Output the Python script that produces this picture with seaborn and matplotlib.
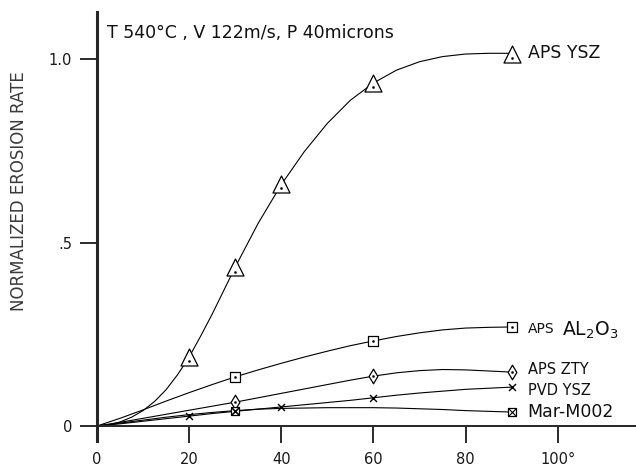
import matplotlib
matplotlib.use("Agg")
import matplotlib.pyplot as plt
import seaborn as sns

sns.set_style("ticks")
plt.rcParams['font.family'] = ['DejaVu Sans']

# measured points (angle in degrees, normalized erosion rate)
ysz_x = [20, 30, 40, 60, 90]
ysz_y = [0.188, 0.433, 0.66, 0.935, 1.015]
al2o3_x = [30, 60, 90]
al2o3_y = [0.134, 0.232, 0.27]
zty_x = [30, 60, 90]
zty_y = [0.065, 0.136, 0.147]
pvd_x = [20, 30, 40, 60, 90]
pvd_y = [0.027, 0.040, 0.052, 0.076, 0.106]
mar_x = [30, 90]
mar_y = [0.042, 0.038]

# fitted curves as drawn in the figure
ysz_curve_x = [0, 2.5, 5, 7.5, 10, 12.5, 15, 17.5, 20, 22.5, 25, 27.5, 30, 35, 40, 45, 50, 55,
               60, 65, 70, 75, 80, 85, 90]
ysz_curve = [0, 0.003, 0.011, 0.024, 0.042, 0.067, 0.099, 0.14, 0.188, 0.245, 0.305, 0.369, 0.433,
             0.553, 0.658, 0.748, 0.825, 0.888, 0.935, 0.970, 0.993, 1.007, 1.014, 1.016, 1.016]
curve_x = [0, 5, 10, 15, 20, 25, 30, 35, 40, 45, 50, 55, 60, 65, 70, 75, 80, 85, 90]
al2o3_curve = [0, 0.021, 0.044, 0.068, 0.091, 0.113, 0.134, 0.153, 0.171, 0.188, 0.204, 0.219, 0.232,
               0.244, 0.254, 0.262, 0.267, 0.269, 0.27]
zty_curve = [0, 0.01, 0.021, 0.032, 0.043, 0.054, 0.065, 0.077, 0.089, 0.101, 0.113, 0.125, 0.136,
             0.145, 0.151, 0.154, 0.153, 0.15, 0.147]
pvd_curve = [0, 0.006, 0.013, 0.02, 0.027, 0.034, 0.040, 0.046, 0.052, 0.058, 0.064, 0.07, 0.077,
             0.084, 0.09, 0.095, 0.1, 0.103, 0.106]
mar_curve = [0, 0.008, 0.016, 0.024, 0.031, 0.037, 0.042, 0.046, 0.048, 0.049, 0.05, 0.05, 0.05,
             0.049, 0.047, 0.045, 0.042, 0.04, 0.038]

xticks = [0, 20, 40, 60, 80, 100]
xtick_labels = ['0', '20', '40', '60', '80', '100°']
yticks = [0, 0.5, 1.0]
ytick_labels = ['0', '.5', '1.0']

fig = plt.figure(figsize=(6.36, 4.66), dpi=100)
ax = fig.add_axes([0.1525, 0.0858, 0.8475, 0.888])

lw = 0.8
sns.lineplot(x=ysz_curve_x, y=ysz_curve, ax=ax, color='black', linewidth=lw, clip_on=False)
for c in [al2o3_curve, zty_curve, pvd_curve, mar_curve]:
    sns.lineplot(x=curve_x, y=c, ax=ax, color='black', linewidth=lw, clip_on=False)

ms = dict(color='white', edgecolor='black', linewidth=0.9, zorder=3, clip_on=False)
sns.scatterplot(x=ysz_x, y=ysz_y, ax=ax, marker='^', s=150, **ms)
sns.scatterplot(x=al2o3_x, y=al2o3_y, ax=ax, marker='s', s=60, **ms)
sns.scatterplot(x=zty_x, y=zty_y, ax=ax, marker='d', s=55, **ms)
sns.scatterplot(x=mar_x, y=mar_y, ax=ax, marker='s', s=40, **ms)
sns.scatterplot(x=mar_x, y=mar_y, ax=ax, marker='x', s=25, color='black', linewidth=0.8,
                zorder=4, clip_on=False)
sns.scatterplot(x=pvd_x, y=pvd_y, ax=ax, marker='x', s=25, color='black', linewidth=1.0,
                zorder=4, clip_on=False)
# center dots
for xs, ys, off in [(ysz_x, ysz_y, -0.012), (al2o3_x, al2o3_y, 0), (zty_x, zty_y, 0)]:
    sns.scatterplot(x=xs, y=[v + off for v in ys], ax=ax, marker='o', s=3, color='black',
                    edgecolor='black', zorder=5, clip_on=False)

ax.set_xlim(0, 117)
ax.set_ylim(0, 1.128)
ax.set_xticks(xticks)
ax.set_xticklabels(xtick_labels)
ax.set_yticks(yticks)
ax.set_yticklabels(ytick_labels)
ax.tick_params(axis='both', direction='out', length=12, width=1.3, labelsize=10.5,
               colors='#1a1a1a', pad=6)
ax.tick_params(axis='x', pad=7)
for s in ['top', 'right']:
    ax.spines[s].set_visible(False)
ax.spines['left'].set_linewidth(2.2)
ax.spines['bottom'].set_linewidth(1.4)
ax.spines['left'].set_bounds(-0.04, 1.128)

ax.set_ylabel('NORMALIZED EROSION RATE', fontsize=12, color='#3a3a3a')
ax.yaxis.set_label_coords(-0.128, 0.568)

col = '#111111'
ax.text(2.2, 1.072, 'T 540°C , V 122m/s, P 40microns', color=col, fontsize=12.5, va='center')
ax.text(93.5, 1.016, 'APS YSZ', color=col, fontsize=12.5, va='center')
ax.text(93.5, 0.264, 'APS', color=col, fontsize=10, va='center')
ax.text(101, 0.262, 'AL$_2$O$_3$', color=col, fontsize=13.5, va='center')
ax.text(93.5, 0.153, 'APS ZTY', color=col, fontsize=10.5, va='center')
ax.text(93.5, 0.098, 'PVD YSZ', color=col, fontsize=10.5, va='center')
ax.text(93.5, 0.038, 'Mar-M002', color=col, fontsize=12.5, va='center')

fig.savefig('out.png', dpi=100)
